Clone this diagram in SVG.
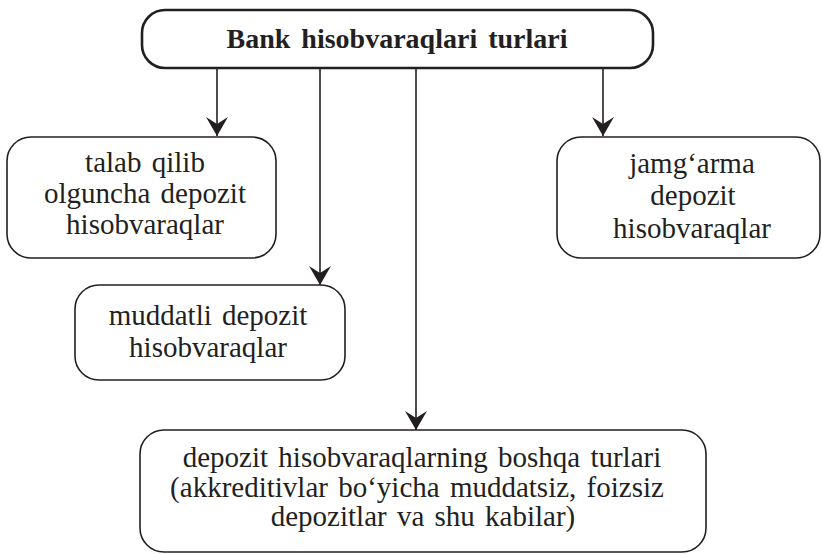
<svg xmlns="http://www.w3.org/2000/svg" width="822" height="554" viewBox="0 0 822 554">
<defs>
<style>
.box{fill:#fff;stroke:#231f20;stroke-width:1.6}
.top{fill:#fff;stroke:#231f20;stroke-width:2.6}
.t{font-family:"Liberation Serif","Times New Roman",serif;font-size:29px;fill:#231f20;text-anchor:middle;word-spacing:3px}
.tb{font-family:"Liberation Serif","Times New Roman",serif;font-size:28px;font-weight:bold;fill:#231f20;text-anchor:middle;word-spacing:4px}
.c{stroke:#231f20;stroke-width:1.6;fill:none;marker-end:url(#ah)}
</style>
<marker id="ah" markerUnits="userSpaceOnUse" viewBox="-20 -12 21 24" refX="0" refY="0" markerWidth="21" markerHeight="24" orient="auto">
<path d="M0,0 L-19,-11 L-12,0 L-19,11 Z" fill="#231f20"/>
</marker>
</defs>
<rect width="822" height="554" fill="#fff"/>
<g id="connectors">
<path class="c" d="M217,68 V136"/>
<path class="c" d="M320,68 V285"/>
<path class="c" d="M416,68 V430"/>
<path class="c" d="M603,68 V136"/>
</g>
<g id="root">
<rect class="top" x="142" y="10" width="511" height="58" rx="23" ry="23"/>
<text class="tb" x="397" y="48">Bank hisobvaraqlari turlari</text>
</g>
<g id="talab">
<rect class="box" x="7" y="137" width="269" height="121" rx="24" ry="24"/>
<text class="t" x="145" y="172">talab qilib</text>
<text class="t" x="145" y="203">olguncha depozit</text>
<text class="t" x="145" y="234">hisobvaraqlar</text>
</g>
<g id="muddatli">
<rect class="box" x="75" y="285" width="270" height="95" rx="24" ry="24"/>
<text class="t" x="208" y="325">muddatli depozit</text>
<text class="t" x="208" y="357">hisobvaraqlar</text>
</g>
<g id="jamgarma">
<rect class="box" x="557" y="137" width="263" height="121" rx="24" ry="24"/>
<text class="t" x="692" y="173">jamg‘arma</text>
<text class="t" x="693" y="205">depozit</text>
<text class="t" x="692" y="238">hisobvaraqlar</text>
</g>
<g id="boshqa">
<rect class="box" x="140" y="430" width="566" height="122" rx="24" ry="24"/>
<text class="t" x="422" y="467">depozit hisobvaraqlarning boshqa turlari</text>
<text class="t" x="417" y="497">(akkreditivlar bo‘yicha muddatsiz, foizsiz</text>
<text class="t" x="423" y="526">depozitlar va shu kabilar)</text>
</g>
</svg>
